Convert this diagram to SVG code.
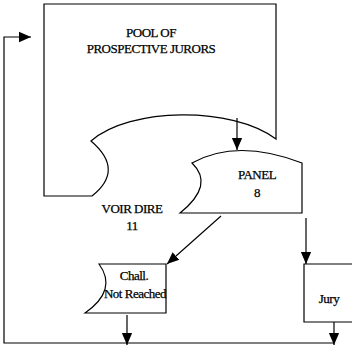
<svg xmlns="http://www.w3.org/2000/svg" width="352" height="347" viewBox="0 0 352 347">
<style>
.s{fill:#fff;stroke:#000;stroke-width:1.2;stroke-linejoin:miter}
.c{fill:none;stroke:#000;stroke-width:1.2}
.t{font-family:'Liberation Serif','DejaVu Serif',serif;font-size:13px;letter-spacing:-0.5px;fill:#000;stroke:#000;stroke-width:0.25;text-anchor:middle}
</style>
<defs>
<marker id="ah" markerWidth="12" markerHeight="14" refX="14" refY="6" viewBox="0 0 14 12" orient="auto" markerUnits="userSpaceOnUse">
<path d="M0,0 L14,6 L0,12 Z" fill="#000"/>
</marker>
</defs>
<rect width="352" height="347" fill="#fff"/>
<g id="pool">
<path class="s" d="M44,196 L44,4 L276,4 L276,139 C232,106 130,107 91,141 Q125,170 92,196 Z"/>
<text class="t" x="151" y="37">POOL OF</text>
<text class="t" x="151" y="53">PROSPECTIVE JURORS</text>
</g>
<g id="voirdire">
<text class="t" x="132" y="213">VOIR DIRE</text>
<text class="t" x="132" y="230">11</text>
</g>
<g id="panel">
<path class="s" d="M192,163 Q237,138 302,163 L302,213 L180,213 Q215,185 192,163 Z"/>
<text class="t" x="257" y="179">PANEL</text>
<text class="t" x="257" y="197">8</text>
</g>
<g id="chall">
<path class="s" d="M99,264 L166,264 L166,313 L85,313 Q118,290 99,264 Z"/>
<text class="t" x="134" y="280">Chall.</text>
<text class="t" x="135" y="298">Not Reached</text>
</g>
<g id="jury">
<path class="s" d="M353,264 L304,264 L304,322 L353,322"/>
<text class="t" x="329" y="303">Jury</text>
</g>
<g id="connectors">
<path class="c" d="M237,118 L237,150" marker-end="url(#ah)"/>
<path class="c" d="M221,216 L167,264" marker-end="url(#ah)"/>
<path class="c" d="M306,218 L306,264" marker-end="url(#ah)"/>
<path class="c" d="M127,315 L127,345" marker-end="url(#ah)"/>
<path class="c" d="M334,322 L334,345" marker-end="url(#ah)"/>
<path class="c" d="M334,343 L4,343 L4,37 L31,37" marker-end="url(#ah)"/>
</g>
</svg>
